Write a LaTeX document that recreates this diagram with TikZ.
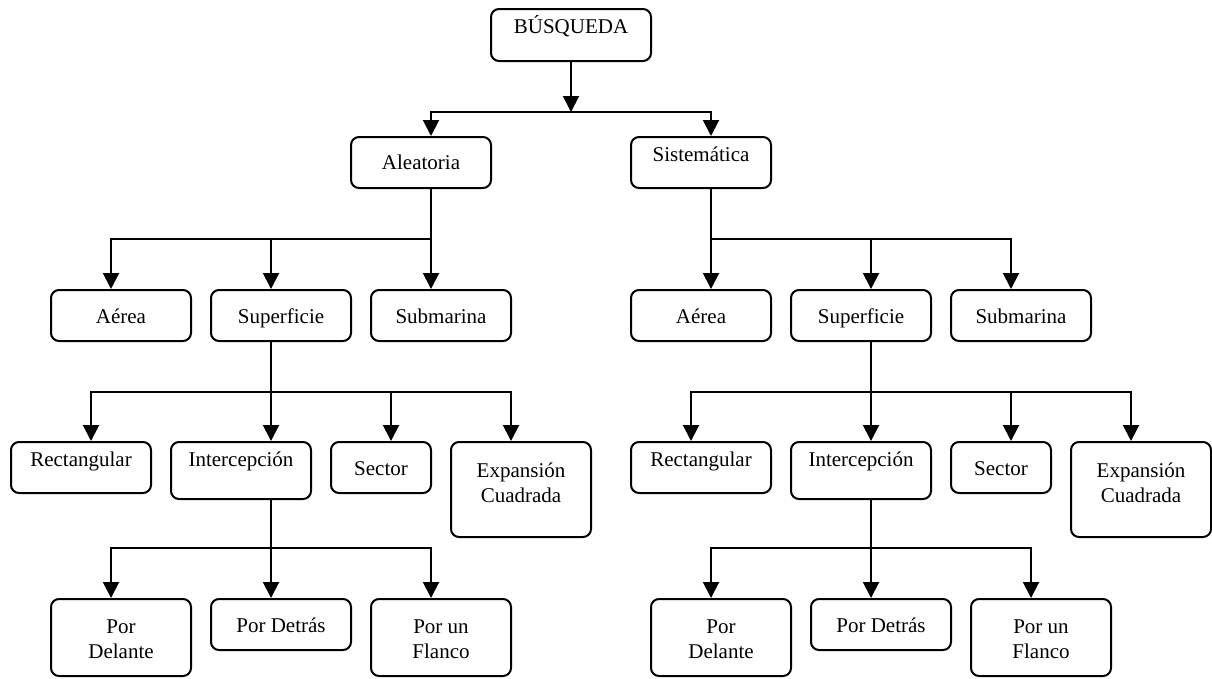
\documentclass[tikz,border=0pt]{standalone}
\usepackage{fontspec}
\setmainfont{Liberation Serif}
\usetikzlibrary{arrows.meta,calc}
\tikzset{
  box/.style={draw, line width=1.5pt, rounded corners=6pt, inner sep=0pt},
  txt/.style={anchor=base, inner sep=0pt, align=center, font=\fontsize{15.75pt}{18.75pt}\selectfont},
  con/.style={line width=1.5pt},
  arr/.style={line width=1.5pt, -{Triangle[width=12pt,length=12pt]}}
}
\begin{document}
\begin{tikzpicture}[x=0.75pt, y=-0.75pt]
\useasboundingbox (0,0) rectangle (1212,678);
% boxes: centre, width, height in px
\newcommand{\bx}[5]{\node[box, minimum width=#4*0.75pt, minimum height=#5*0.75pt] (#1) at (#2,#3) {};}
\bx{bus}{571}{35}{160}{52}
\bx{alea}{421}{162.5}{140}{51}
\bx{sist}{701}{162.5}{140}{51}
% level 2
\bx{aerL}{121}{315.5}{140}{51}
\bx{supL}{281}{315.5}{140}{51}
\bx{subL}{441}{315.5}{140}{51}
\bx{aerR}{701}{315.5}{140}{51}
\bx{supR}{861}{315.5}{140}{51}
\bx{subR}{1021}{315.5}{140}{51}
% level 3
\bx{recL}{81}{467.5}{140}{51}
\bx{intL}{241}{470.5}{140}{57}
\bx{secL}{381}{467.5}{100}{51}
\bx{expL}{521}{489.5}{140}{95}
\bx{recR}{701}{467.5}{140}{51}
\bx{intR}{861}{470.5}{140}{57}
\bx{secR}{1001}{467.5}{100}{51}
\bx{expR}{1141}{489.5}{140}{95}
% level 4
\bx{delL}{121}{637.5}{140}{77}
\bx{detL}{281}{624.5}{140}{51}
\bx{flaL}{441}{637.5}{140}{77}
\bx{delR}{721}{637.5}{140}{77}
\bx{detR}{881}{624.5}{140}{51}
\bx{flaR}{1041}{637.5}{140}{77}
% texts (anchor = baseline of the last line)
\node[txt] (tbus) at (571,33) {BÚSQUEDA};
\node[txt] (talea) at (421,169) {Aleatoria};
\node[txt] (tsist) at (701,161) {Sistemática};
\node[txt] (taerL) at (121,323) {Aérea};
\node[txt] (tsupL) at (281,323) {Superficie};
\node[txt] (tsubL) at (441,323) {Submarina};
\node[txt] (taerR) at (701,323) {Aérea};
\node[txt] (tsupR) at (861,323) {Superficie};
\node[txt] (tsubR) at (1021,323) {Submarina};
\node[txt] (trecL) at (81,466) {Rectangular};
\node[txt] (tintL) at (241,466) {Intercepción};
\node[txt] (tsecL) at (381,475) {Sector};
\node[txt] (texpL) at (521,502) {Expansión\\Cuadrada};
\node[txt] (trecR) at (701,466) {Rectangular};
\node[txt] (tintR) at (861,466) {Intercepción};
\node[txt] (tsecR) at (1001,475) {Sector};
\node[txt] (texpR) at (1141,502) {Expansión\\Cuadrada};
\node[txt] (tdelL) at (121,658) {Por\\Delante};
\node[txt] (tdetL) at (281,632) {Por Detrás};
\node[txt] (tflaL) at (441,658) {Por un\\Flanco};
\node[txt] (tdelR) at (721,658) {Por\\Delante};
\node[txt] (tdetR) at (881,632) {Por Detrás};
\node[txt] (tflaR) at (1041,658) {Por un\\Flanco};
% junctions
\coordinate (j1) at (571,112);
\coordinate (j2L) at (431,239);
\coordinate (j2R) at (711,239);
\coordinate (j3L) at (271,392);
\coordinate (j3R) at (871,392);
\coordinate (j4L) at (271,548);
\coordinate (j4R) at (871,548);
% level 1
\draw[arr] (bus.south) -- (j1);
\draw[arr] (j1) -| ($(alea.north)+(10,0)$);
\draw[arr] (j1) -| ($(sist.north)+(10,0)$);
% level 2
\draw[con] ($(alea.south)+(10,0)$) -- (j2L);
\draw[arr] (j2L) -| ($(aerL.north)+(-10,0)$);
\draw[arr] (j2L) -| ($(supL.north)+(-10,0)$);
\draw[arr] (j2L) -- ($(subL.north)+(-10,0)$);
\draw[con] ($(sist.south)+(10,0)$) -- (j2R);
\draw[arr] (j2R) -- ($(aerR.north)+(10,0)$);
\draw[arr] (j2R) -| ($(supR.north)+(10,0)$);
\draw[arr] (j2R) -| ($(subR.north)+(-10,0)$);
% level 3
\draw[con] ($(supL.south)+(-10,0)$) -- (j3L);
\draw[arr] (j3L) -| ($(recL.north)+(10,0)$);
\draw[arr] (j3L) -- ($(intL.north)+(30,0)$);
\draw[arr] (j3L) -| ($(secL.north)+(10,0)$);
\draw[arr] (j3L) -| ($(expL.north)+(-10,0)$);
\draw[con] ($(supR.south)+(10,0)$) -- (j3R);
\draw[arr] (j3R) -| ($(recR.north)+(-10,0)$);
\draw[arr] (j3R) -- ($(intR.north)+(10,0)$);
\draw[arr] (j3R) -| ($(secR.north)+(10,0)$);
\draw[arr] (j3R) -| ($(expR.north)+(-10,0)$);
% level 4
\draw[con] ($(intL.south)+(30,0)$) -- (j4L);
\draw[arr] (j4L) -| ($(delL.north)+(-10,0)$);
\draw[arr] (j4L) -- ($(detL.north)+(-10,0)$);
\draw[arr] (j4L) -| ($(flaL.north)+(-10,0)$);
\draw[con] ($(intR.south)+(10,0)$) -- (j4R);
\draw[arr] (j4R) -| ($(delR.north)+(-10,0)$);
\draw[arr] (j4R) -- ($(detR.north)+(-10,0)$);
\draw[arr] (j4R) -| ($(flaR.north)+(-10,0)$);
\end{tikzpicture}
\end{document}
